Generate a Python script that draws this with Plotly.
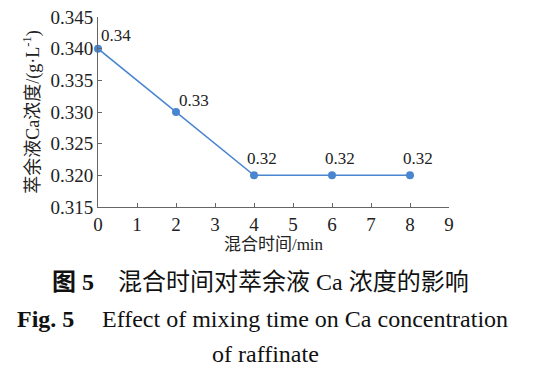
import plotly.graph_objects as go

mixing_time = [0, 2, 4, 6, 8]
ca_conc = [0.340, 0.330, 0.320, 0.320, 0.320]
labels = ["0.34", "0.33", "0.32", "0.32", "0.32"]

x_ticks = list(range(0, 10))
y_ticks = [0.315, 0.320, 0.325, 0.330, 0.335, 0.340, 0.345]

serif = "Liberation Serif"
cjk = "Liberation Serif, Noto Sans CJK SC"
blue = "#4a86cf"
axis_col = "#666666"

L, R, T, B = 98, 449.5, 16.5, 207.3
W, H = 541, 368

fig = go.Figure()
fig.add_trace(go.Scatter(
    x=mixing_time, y=ca_conc, mode="lines+markers",
    line=dict(color=blue, width=1.5),
    marker=dict(color=blue, size=8),
    showlegend=False, cliponaxis=False,
))

# data labels
offsets = [(1, 2), (1, 0), (-9, 5), (-9, 5), (-9, 5)]
for xv, yv, t, (dx, dy) in zip(mixing_time, ca_conc, labels, offsets):
    fig.add_annotation(x=xv, y=yv, text=t, showarrow=False,
                       xanchor="left", yanchor="bottom", xshift=dx, yshift=dy,
                       font=dict(family=serif, size=17, color="#222"))

fig.update_layout(
    width=W, height=H,
    margin=dict(l=L, r=W - R, t=T, b=H - B, autoexpand=False),
    paper_bgcolor="white", plot_bgcolor="white",
    font=dict(family=serif),
    xaxis=dict(range=[0, 9], tickvals=x_ticks, ticks="inside", ticklen=4,
               tickcolor=axis_col, showline=True, linecolor=axis_col, linewidth=1,
               showgrid=False, zeroline=False, automargin=False,
               tickfont=dict(family=serif, size=19, color="#222"),
               title=dict(text="混合时间/min", font=dict(family=cjk, size=17, color="#222"),
                          standoff=0)),
    yaxis=dict(range=[0.315, 0.345], tickvals=y_ticks, tickformat=".3f",
               ticks="inside", ticklen=4, tickcolor=axis_col, showline=True,
               linecolor=axis_col, linewidth=1, showgrid=False, zeroline=False,
               automargin=False,
               tickfont=dict(family=serif, size=19, color="#222"),
               title=dict(text="萃余液Ca浓度/(g·L<sup>-1</sup>)",
                          font=dict(family=cjk, size=18, color="#222"), standoff=6)),
)

pw, ph = R - L, B - T
def px(x):
    return (x - L) / pw
def py(y):
    return (B - y) / ph

captions = [
    ("<b>图 5</b>", 50, 283, cjk),
    ("混合时间对萃余液 Ca 浓度的影响", 116, 283, cjk),
    ("<b>Fig. 5</b>", 15, 320, serif),
    ("Effect of mixing time on Ca concentration", 100, 320, serif),
    ("of raffinate", 210, 355, serif),
]
for text, x0, yc, fam in captions:
    fig.add_annotation(xref="paper", yref="paper", x=px(x0), y=py(yc),
                       text=text, showarrow=False, xanchor="left", yanchor="middle",
                       font=dict(family=fam, size=24, color="#111"))

fig.write_html("out.html", config={"displayModeBar": False},
               post_script="document.body.style.margin='0';document.body.style.padding='0';")
